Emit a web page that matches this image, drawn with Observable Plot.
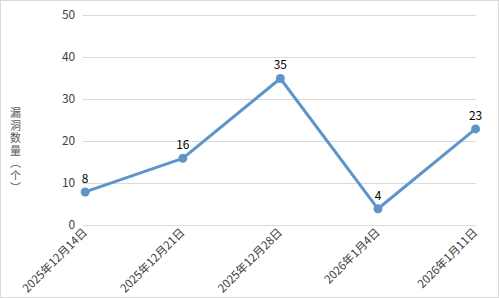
<!DOCTYPE html>
<html>
<head>
<meta charset="utf-8">
<script src="https://cdn.jsdelivr.net/npm/d3@7"></script>
<script src="https://cdn.jsdelivr.net/npm/@observablehq/plot@0.6"></script>
<style>
  html, body { margin: 0; padding: 0; background: #fff; }
  #wrap { position: relative; width: 497px; height: 296px; border: 1px solid #d9d9d9; overflow: hidden; }
  #wrap svg { position: absolute; left: -1px; top: -1px; }
  #ytitle { position: absolute; left: 8px; top: 105px; width: 13px; text-align: center;
            font-family: 'Noto Sans CJK SC', sans-serif; font-size: 11px; line-height: 12.5px;
            color: #595959; }
  #ytitle span { display: block; height: 12.5px; }
</style>
</head>
<body>
<div id="wrap"><div id="ytitle"></div></div>
<script>
const dates = ["2025年12月14日", "2025年12月21日", "2025年12月28日", "2026年1月4日", "2026年1月11日"];
const counts = [8, 16, 35, 4, 23];
const yTicks = [0, 10, 20, 30, 40, 50];
const yTitleChars = ["漏", "洞", "数", "量", "︵", "个", "︶"];

const data = dates.map((d, i) => ({date: d, count: counts[i]}));
const font = "'Microsoft YaHei', 'Noto Sans CJK SC', sans-serif";

const chart = Plot.plot({
  width: 499,
  height: 298,
  marginLeft: 83,
  marginRight: 21,
  marginTop: 15,
  marginBottom: 72,
  style: {fontFamily: font, fontSize: "12px", color: "#404040", background: "transparent", overflow: "visible"},
  x: {type: "point", domain: dates, padding: 0, label: null},
  y: {domain: [0, 50], ticks: yTicks, label: null},
  marks: [
    Plot.gridY(yTicks, {stroke: "#d9d9d9", strokeOpacity: 1, strokeWidth: 1}),
    Plot.axisY({ticks: yTicks, tickSize: 0, tickPadding: 8, fontSize: 12, fill: "#404040"}),
    Plot.axisX({tickSize: 0, tickRotate: -45, tickPadding: 5, fontSize: 11.5, fill: "#404040"}),
    Plot.line(data, {x: "date", y: "count", stroke: "#5d95c8", strokeWidth: 3}),
    Plot.dot(data, {x: "date", y: "count", r: 4.5, fill: "#5d95c8", stroke: "none"}),
    Plot.text(data, {x: "date", y: "count", text: d => String(d.count), dy: -13, fill: "#000", fontSize: 12})
  ]
});
document.getElementById("wrap").appendChild(chart);
d3.select("#ytitle").selectAll("span").data(yTitleChars).join("span").text(d => d);
</script>
</body>
</html>
